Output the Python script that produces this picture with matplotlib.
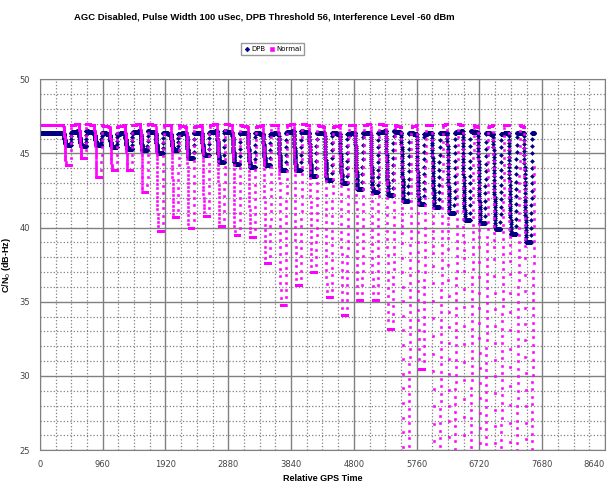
import numpy as np
import matplotlib.pyplot as plt
from matplotlib.ticker import MultipleLocator

# Readings taken per interference burst (relative GPS time of burst onset)
cycle_start = [360, 595, 830, 1064, 1299, 1534, 1768, 2003, 2238, 2472,
               2707, 2942, 3176, 3411, 3646, 3880, 4115, 4350, 4585, 4819,
               5054, 5289, 5523, 5758, 5993, 6227, 6462, 6697, 6931, 7166,
               7400]
dpb_high = [46.4, 46.5, 46.4, 46.3, 46.4, 46.5, 46.4, 46.3, 46.4, 46.4,
            46.5, 46.4, 46.4, 46.3, 46.4, 46.5, 46.4, 46.4, 46.3, 46.4,
            46.4, 46.5, 46.4, 46.3, 46.4, 46.4, 46.5, 46.4, 46.3, 46.4,
            46.4]
dpb_low = [45.6, 45.5, 45.6, 45.4, 45.3, 45.2, 45.0, 45.2, 44.7, 44.9,
           44.4, 44.3, 44.1, 44.2, 43.9, 43.9, 43.5, 43.2, 43.0, 42.6,
           42.4, 42.2, 41.8, 41.6, 41.4, 41.0, 40.5, 40.3, 39.9, 39.6,
           39.0]
normal_high = [46.9, 47.0, 46.9, 46.8, 46.9, 47.0, 46.9, 46.9, 46.8, 46.9,
               47.0, 46.9, 46.8, 46.9, 46.9, 47.0, 46.9, 46.8, 46.9, 46.9,
               47.0, 46.9, 46.8, 46.9, 46.9, 47.0, 46.9, 46.8, 46.9, 46.9,
               46.8]
# below 25 means the value runs off the bottom of the chart
normal_low = [44.2, 44.7, 43.4, 43.9, 43.9, 42.4, 39.8, 40.7, 40.0, 40.8,
              40.1, 39.5, 39.4, 37.6, 34.8, 36.1, 37.0, 35.3, 34.1, 35.1,
              35.1, 33.2, 22.3, 30.5, 17.3, 20.6, 16.2, 21.4, 18.7, 15.5,
              19.1]
t_end = 7560

# burst timing: descent (s), trough (s), recovery rate (dB/s)
fall, hold = 35, 75
rise_rate = 0.5


def build_series(high, low, knee):
    t = np.arange(0, t_end + 1)
    xp = [0]
    fp = [high[0]]
    for s, hi, lo in zip(cycle_start, high, low):
        rise = max(4.0, (hi - lo) / rise_rate)
        xp += [s, s + fall * 0.5, s + fall, s + fall + hold,
               s + fall + hold + rise]
        fp += [hi, hi - knee * (hi - lo), lo, lo, hi]
    xp.append(t_end)
    fp.append(high[-1])
    return t, np.interp(t, xp, fp)


t, dpb = build_series(dpb_high, dpb_low, 0.6)
_, normal = build_series(normal_high, normal_low, 0.3)

fig = plt.figure(figsize=(6.13, 4.92), dpi=100)
ax = fig.add_axes([0.065, 0.085, 0.922, 0.754])

ax.plot(t, dpb, linestyle='none', marker='D', markersize=2,
        markeredgewidth=0.4, color='#000080', label='DPB')
ax.plot(t, normal, linestyle='none', marker='s', markersize=2,
        markeredgewidth=0.4, color='#ff00ff', label='Normal')

ax.set_xlim(0, 8640)
ax.set_ylim(25, 50)
ax.set_xticks(np.arange(0, 8641, 960))
ax.xaxis.set_minor_locator(MultipleLocator(240))
ax.yaxis.set_major_locator(MultipleLocator(5))
ax.yaxis.set_minor_locator(MultipleLocator(1))
ax.grid(which='major', color='#808080', linewidth=1.0)
ax.grid(which='minor', color='#808080', linestyle=':', linewidth=0.9)
ax.set_axisbelow(True)
for sp in ax.spines.values():
    sp.set_color('#808080')
ax.tick_params(which='both', length=0, labelsize=6, colors='#444444', pad=7)
ax.xaxis.get_major_ticks()[-1].label1.set_horizontalalignment('right')

ax.set_xlabel('Relative GPS Time', fontsize=6.5, fontweight='bold',
              family='Liberation Sans')
ax.set_ylabel('C/N$_0$ (dB-Hz)', fontsize=6.5, fontweight='bold',
              family='Liberation Sans', labelpad=5)
fig.text(0.431, 0.965, 'AGC Disabled, Pulse Width 100 uSec, DPB Threshold 56, '
         'Interference Level -60 dBm', ha='center', va='center', fontsize=6.8,
         fontweight='bold', family='Liberation Sans')
ax.legend(loc='center', bbox_to_anchor=(0.412, 1.081), ncol=2,
          fontsize=5, frameon=True, fancybox=False, edgecolor='#808080',
          markerscale=1.2, handletextpad=0.2, columnspacing=0.6,
          borderpad=0.4, handlelength=0.8)

plt.savefig('out.png', dpi=100)
